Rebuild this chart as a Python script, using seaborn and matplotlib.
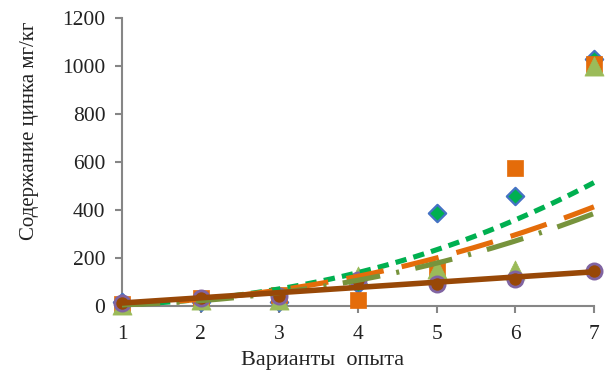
import numpy as np
import pandas as pd
import matplotlib
matplotlib.use("Agg")
import matplotlib.pyplot as plt
import seaborn as sns

# variants of the experiment
variants = [1, 2, 3, 4, 5, 6, 7]
# zinc content, mg/kg, four series
diamond_vals = [15, 16, 16, 90, 389, 460, 1030]
square_vals = [10, 35, 45, 25, 152, 575, 1010]
triangle_vals = [6, 25, 25, 125, 155, 150, 1000]
circle_vals = [12, 33, 41, 107, 91, 112, 145]

sns.set_style("ticks")
plt.rcParams['font.family'] = ['Liberation Serif', 'DejaVu Serif']

fig = plt.figure(figsize=(6.07, 3.81), dpi=100)
ax = fig.add_axes([0.201, 0.197, 0.7775, 0.7555])

df = pd.DataFrame({'x': variants, 'd': diamond_vals, 's': square_vals,
                   't': triangle_vals, 'c': circle_vals})

# markers
sns.scatterplot(data=df, x='x', y='d', marker='D', s=78, color='#00B050',
                edgecolor='#4472C4', linewidth=1.6, ax=ax, clip_on=False, zorder=3)
sns.scatterplot(data=df, x='x', y='s', marker='s', s=135, color='#E46C0A',
                edgecolor='#E46C0A', linewidth=0.5, ax=ax, clip_on=False, zorder=4)
sns.scatterplot(data=df, x='x', y='t', marker='^', s=190, color='#9BBB59',
                edgecolor='#9BBB59', linewidth=0.5, ax=ax, clip_on=False, zorder=5)
sns.scatterplot(data=df, x='x', y='c', marker='o', s=120, color='#984807',
                edgecolor='#8064A2', linewidth=2.0, ax=ax, clip_on=False, zorder=6)

# trend lines: power fits for three series, linear for the last one
xs = np.linspace(1, 7, 200)
lx = np.log(np.array(variants, dtype=float))


def power_fit(vals):
    b, la = np.polyfit(lx, np.log(np.array(vals, dtype=float)), 1)
    return np.exp(la) * xs ** b


k, c0 = np.polyfit(variants, circle_vals, 1)
trend = pd.DataFrame({'x': xs, 'd': power_fit(diamond_vals),
                      's': power_fit(square_vals), 't': power_fit(triangle_vals),
                      'c': k * xs + c0})

sns.lineplot(data=trend, x='x', y='d', color='#00B050', linewidth=3.7,
             linestyle=(0, (2.2, 1.4)), ax=ax, zorder=7, clip_on=False)
sns.lineplot(data=trend, x='x', y='s', color='#E46C0A', linewidth=3.7,
             linestyle=(0, (7.4, 3.6)), ax=ax, zorder=8, clip_on=False)
sns.lineplot(data=trend, x='x', y='t', color='#77933C', linewidth=3.7,
             linestyle=(0, (7.4, 3.2, 0.6, 3.2)), ax=ax, zorder=9, clip_on=False)
sns.lineplot(data=trend, x='x', y='c', color='#984807', linewidth=4.0,
             ax=ax, zorder=10, clip_on=False)

ax.set_xlim(1, 7)
ax.set_ylim(0, 1200)
ax.set_xticks(variants)
ax.set_yticks(range(0, 1201, 200))

sns.despine(ax=ax)
for side in ['left', 'bottom']:
    ax.spines[side].set_color('#868686')
    ax.spines[side].set_linewidth(1.5)
ax.tick_params(axis='both', colors='#868686', length=5, width=1.5,
               labelcolor='#222222', labelsize=15.5)
ax.tick_params(axis='x', pad=9)
ax.tick_params(axis='y', pad=7)

ax.set_xlabel('Варианты  опыта', fontsize=16, color='#222222', labelpad=5)
ax.set_ylabel('Содержание цинка мг/кг', fontsize=15, color='#222222', labelpad=7)
ax.yaxis.set_label_coords(-0.175, 0.61)
ax.xaxis.set_label_coords(0.426, -0.155)

fig.savefig('out.png', dpi=100)
